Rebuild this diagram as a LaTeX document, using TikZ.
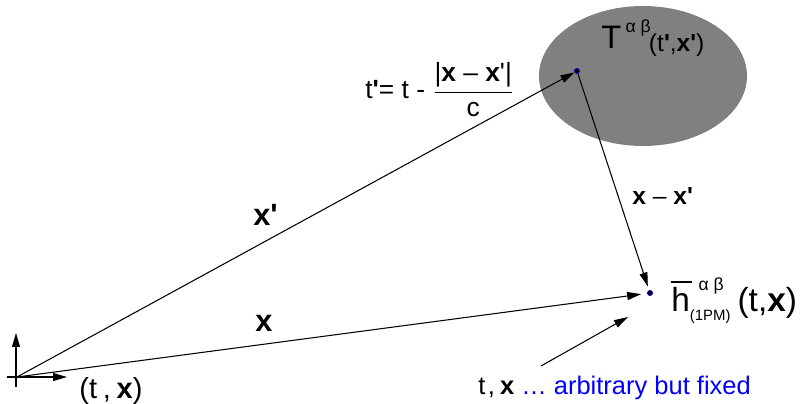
\documentclass[tikz,border=0pt]{standalone}
\usepackage{amsmath}
\usepackage{fontspec}
\setmainfont{Liberation Sans}
\usetikzlibrary{arrows.meta}

\tikzset{
  vec/.style={-{Triangle[length=0.28cm,width=0.16cm]}, line width=0.6pt},
  evt/.style={circle, fill=black, draw=blue!75!black, line width=0.5pt, inner sep=0pt, minimum size=0.1cm},
  lbl/.style={inner sep=0pt, anchor=base west},
}
\newcommand{\fs}[1]{\fontsize{#1}{#1}\selectfont}
\newcommand{\prm}{\textquotesingle}

\begin{document}
\begin{tikzpicture}[x=0.02cm, y=-0.02cm]
\useasboundingbox (0,0) rectangle (801,404);
% source region
\fill[gray] (643,76) ellipse [x radius=104, y radius=70];
\node[evt] (src) at (577,71) {};
\node[evt] (fld) at (650,293) {};
% axes at the origin
\coordinate (O) at (17,377);
\coordinate (yb) at (16,387);
\coordinate (yt) at (16,333);
\coordinate (xl) at (7,377);
\coordinate (xr) at (67,377);
\draw[vec] (yb) -- (yt);
\draw[vec] (xl) -- (xr);
% position vectors
\draw[vec] (O) -- (src);
\draw[vec, shorten >=0.12cm] (O) -- (fld);
\draw[vec, shorten >=0.08cm] (src) -- (fld);
% pointer to the field point
\coordinate (ptr) at (541,366);
\coordinate (ptrtip) at (628,317);
\draw[vec] (ptr) -- (ptrtip);
% labels
\node[lbl, font=\fs{17.5}\bfseries] (lxp) at (253,226) {x\prm};
\node[lbl, font=\fs{17.5}\bfseries] (lx) at (255,332) {x};
\node[lbl, font=\fs{14}] (ldiff) at (632,205) {\textbf{x} -- \textbf{x\prm}};
\node[lbl, font=\fs{16.5}] (ltx) at (79,399) {(t\hspace{.2em},\hspace{.2em}\textbf{x})};
\node[lbl, font=\fs{15}] (lret) at (365,99)
  {t\textbf{\prm}= t - $\dfrac{\text{|\textbf{x} -- \textbf{x}\prm|}}{\text{c}}$};
\node[lbl] (lT) at (601,49)
  {\fs{18.5}T\hspace{2.5pt}\raisebox{9.5pt}{\fs{10}α β}\hspace{-1pt}\raisebox{-1.7pt}{\fs{14}(t\textbf{\prm},\textbf{x\prm})}};
\node[lbl] (lh) at (671,312)
  {\fs{19}\makebox[0pt][l]{\rule[16.5pt]{12pt}{1pt}}h\makebox[0pt][l]{\hspace{5pt}\raisebox{12pt}{\fs{10}α β}}\raisebox{-5pt}{\fs{8.5}(1PM)}\hspace{4pt}(t,\textbf{x})};
\node[lbl, font=\fs{14.5}] (lfix) at (478,395)
  {t\hspace{.1em},\hspace{.2em}\textbf{x} \textcolor{blue}{… arbitrary but fixed}};
\end{tikzpicture}
\end{document}
